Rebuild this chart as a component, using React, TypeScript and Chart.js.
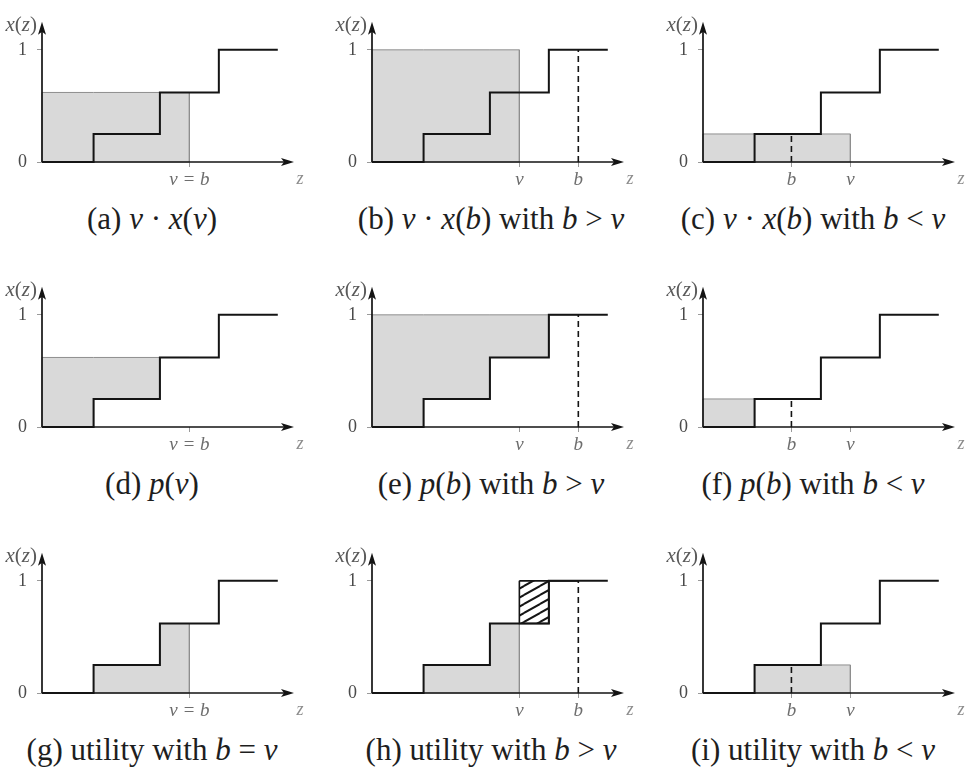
import React, { useEffect, useRef } from "react";
import { Chart, registerables } from "chart.js";

Chart.register(...registerables);

// Allocation rule x(z): a non-decreasing step function of the bid z
const stepPoints = [1.75, 4, 6]; // z where x(z) jumps
const stepLevels = [0, 0.25, 0.62, 1]; // x(z) on each piece
const zEnd = 8; // right end of the drawn curve
const zAxisMax = 8.55; // tip of the z arrow
const xAxisMax = 1.25; // tip of the x(z) arrow
const yTickValues = [0, 1];

// Bidder value and the bid used in each of the nine panels
const valueV = 5;
const bidsB = [5, 7, 3, 5, 7, 3, 5, 7, 3];
const panelKinds = [
  "revenue", "revenue", "revenue",
  "payment", "payment", "payment",
  "utility", "utility", "utility",
];
const tickNameV = "v";
const tickNameB = "b";
const tickNameEqual = "v = b";

// Captions; text between $ signs is set in math italic
const captions = [
  "(a) $v$ · $x$($v$)",
  "(b) $v$ · $x$($b$) with $b$ > $v$",
  "(c) $v$ · $x$($b$) with $b$ < $v$",
  "(d) $p$($v$)",
  "(e) $p$($b$) with $b$ > $v$",
  "(f) $p$($b$) with $b$ < $v$",
  "(g) utility with $b$ = $v$",
  "(h) utility with $b$ > $v$",
  "(i) utility with $b$ < $v$",
];

const FONT = "'Liberation Serif', 'Times New Roman', serif";

// Layout of the 3x3 grid
const PANEL_W = 320;
const PANEL_H = 191;
const LEFT_GUTTER = 40;
const TOP_PAD = 12;
const BOTTOM_GUTTER = 30;
const colLeft = [2, 332, 663];
const rowTop = [1, 266, 532];
const captionCx = [152, 491, 813];
const CAPTION_DROP = 57;

type Pt = { x: number; y: number };

function xAt(z: number): number {
  let k = 0;
  for (const s of stepPoints) if (z >= s) k++;
  return stepLevels[k];
}

// Closed polygon between two piecewise-constant functions on [a, c]
function band(a: number, c: number, lower: (z: number) => number, upper: (z: number) => number): Pt[] {
  const cuts = [a, ...stepPoints.filter((s) => s > a && s < c), c];
  const top: Pt[] = [];
  const bottom: Pt[] = [];
  for (let i = 0; i < cuts.length - 1; i++) {
    const m = (cuts[i] + cuts[i + 1]) / 2;
    top.push({ x: cuts[i], y: upper(m) }, { x: cuts[i + 1], y: upper(m) });
    bottom.push({ x: cuts[i], y: lower(m) }, { x: cuts[i + 1], y: lower(m) });
  }
  const poly = [...top, ...bottom.reverse()];
  poly.push(top[0]);
  return poly;
}

function curvePoints(): Pt[] {
  const pts: Pt[] = [{ x: 0, y: stepLevels[0] }];
  stepPoints.forEach((s, i) => pts.push({ x: s, y: stepLevels[i + 1] }));
  pts.push({ x: zEnd, y: stepLevels[stepLevels.length - 1] });
  return pts;
}

// Diagonal "///" hatching used for the negative-utility area
function makeHatch(): CanvasPattern | string {
  const w = 16;
  const h = 9;
  const c = document.createElement("canvas");
  c.width = w;
  c.height = h;
  const g = c.getContext("2d");
  if (!g) return "#888";
  g.strokeStyle = "#151515";
  g.lineWidth = 2;
  g.beginPath();
  for (const [dx, dy] of [[0, 0], [-w, 0], [w, 0], [0, -h], [0, h]]) {
    g.moveTo(dx, h + dy);
    g.lineTo(w + dx, dy);
  }
  g.stroke();
  return g.createPattern(c, "repeat") || "#888";
}

function drawMixed(ctx: CanvasRenderingContext2D, text: string, size: number, rightX: number, midY: number) {
  const parts = text.split("$").map((t, i) => ({ t, it: i % 2 === 1 })).filter((p) => p.t.length);
  const fontOf = (it: boolean) => `${it ? "italic " : ""}${size}px ${FONT}`;
  let w = 0;
  for (const p of parts) {
    ctx.font = fontOf(p.it);
    w += ctx.measureText(p.t).width;
  }
  let x = rightX - w;
  ctx.textAlign = "left";
  ctx.textBaseline = "middle";
  for (const p of parts) {
    ctx.font = fontOf(p.it);
    ctx.fillText(p.t, x, midY);
    x += ctx.measureText(p.t).width;
  }
}

// Axis lines with arrow heads, plus the x(z) and z axis names
const arrowAxes = {
  id: "arrowAxes",
  afterDatasetsDraw(chart: any) {
    const { ctx } = chart;
    const sx = chart.scales.x;
    const sy = chart.scales.y;
    const ox = sx.getPixelForValue(0);
    const oy = sy.getPixelForValue(0);
    const tipX = sx.getPixelForValue(zAxisMax);
    const tipY = sy.getPixelForValue(xAxisMax);
    ctx.save();
    ctx.strokeStyle = "#141414";
    ctx.fillStyle = "#141414";
    ctx.lineWidth = 1.7;
    ctx.beginPath();
    ctx.moveTo(ox, oy);
    ctx.lineTo(tipX - 9, oy);
    ctx.moveTo(ox, oy);
    ctx.lineTo(ox, tipY + 9);
    ctx.stroke();
    // z arrow head
    ctx.beginPath();
    ctx.moveTo(tipX, oy);
    ctx.lineTo(tipX - 13, oy - 4);
    ctx.lineTo(tipX - 10, oy);
    ctx.lineTo(tipX - 13, oy + 4);
    ctx.closePath();
    ctx.fill();
    // x(z) arrow head
    ctx.beginPath();
    ctx.moveTo(ox, tipY);
    ctx.lineTo(ox - 4, tipY + 13);
    ctx.lineTo(ox, tipY + 10);
    ctx.lineTo(ox + 4, tipY + 13);
    ctx.closePath();
    ctx.fill();

    ctx.fillStyle = "#5a5a5a";
    drawMixed(ctx, "$x$($z$)", 21, ox - 5, tipY + 4);
    ctx.fillStyle = "#8c8c8c";
    ctx.font = `italic 18px ${FONT}`;
    ctx.textAlign = "center";
    ctx.textBaseline = "middle";
    ctx.fillText("z", tipX + 6, oy + 17);
    ctx.restore();
  },
};

function Panel({ index }: { index: number }) {
  const ref = useRef<HTMLCanvasElement>(null);
  useEffect(() => {
    const canvas = ref.current;
    if (!canvas) return;
    const b = bidsB[index];
    const v = valueV;
    const kind = panelKinds[index];
    const xb = xAt(b);
    const GRAY_FILL = "#d9d9d9";
    const GRAY_EDGE = "#8f8f8f";

    const datasets: any[] = [];
    datasets.push({
      label: "x(z)",
      data: curvePoints(),
      stepped: true,
      borderColor: "#141414",
      borderWidth: 2,
      pointRadius: 0,
      fill: false,
      clip: false,
      order: 1,
    });
    if (b !== v) {
      datasets.push({
        label: "bid",
        data: [{ x: b, y: 0 }, { x: b, y: xb }],
        borderColor: "#141414",
        borderWidth: 1.6,
        borderDash: [6, 4],
        pointRadius: 0,
        fill: false,
        clip: false,
        order: 2,
      });
    }
    const shade = (poly: Pt[], bg: any, edge: string, width: number, order: number) => ({
      label: "area",
      data: poly,
      backgroundColor: bg,
      borderColor: edge,
      borderWidth: width,
      pointRadius: 0,
      fill: "shape",
      clip: false,
      order,
    });
    if (kind === "revenue") {
      datasets.push(shade(band(0, v, () => 0, () => xb), GRAY_FILL, GRAY_EDGE, 1, 4));
    } else if (kind === "payment") {
      datasets.push(shade(band(0, b, xAt, () => xb), GRAY_FILL, GRAY_EDGE, 1, 4));
    } else {
      datasets.push(shade(band(0, v, () => 0, (z) => Math.min(xAt(z), xb)), GRAY_FILL, GRAY_EDGE, 1, 4));
      if (b > v) {
        datasets.push(shade(band(v, b, xAt, () => xb), makeHatch(), "#141414", 1.6, 3));
      }
    }

    const xTicks = b === v ? [v] : [v, b].sort((p, q) => p - q);
    const xTickLabel = (val: number) => (b === v ? tickNameEqual : val === v ? tickNameV : tickNameB);

    const chart = new Chart(canvas, {
      type: "line",
      data: { datasets },
      plugins: [arrowAxes],
      options: {
        responsive: false,
        animation: false,
        events: [],
        layout: { padding: { top: TOP_PAD, right: PANEL_W - LEFT_GUTTER - 252, left: 0, bottom: 0 } },
        plugins: { legend: { display: false }, tooltip: { enabled: false } },
        scales: {
          x: {
            type: "linear",
            min: 0,
            max: zAxisMax,
            bounds: "data",
            afterBuildTicks: (s: any) => {
              s.ticks = xTicks.map((value) => ({ value }));
            },
            afterFit: (s: any) => {
              s.height = BOTTOM_GUTTER;
            },
            border: { display: false },
            grid: { drawOnChartArea: false, drawTicks: true, tickLength: 5, color: "#9a9a9a", lineWidth: 1 },
            ticks: {
              autoSkip: false,
              maxRotation: 0,
              padding: 2,
              color: "#6e6e6e",
              font: { family: FONT, size: 19, style: "italic" },
              callback: (val: any) => xTickLabel(Number(val)),
            },
          },
          y: {
            type: "linear",
            min: 0,
            max: xAxisMax,
            bounds: "data",
            afterBuildTicks: (s: any) => {
              s.ticks = yTickValues.map((value) => ({ value }));
            },
            afterFit: (s: any) => {
              s.width = LEFT_GUTTER;
            },
            border: { display: false },
            grid: { drawOnChartArea: false, drawTicks: true, tickLength: 5, color: "#9a9a9a", lineWidth: 1 },
            ticks: {
              autoSkip: false,
              padding: 10,
              color: "#4a4a4a",
              font: { family: FONT, size: 18 },
              callback: (val: any) => String(val),
            },
          },
        },
      } as any,
    });

    return () => {
      chart.destroy();
    };
  }, [index]);

  const col = index % 3;
  const row = Math.floor(index / 3);
  return (
    <canvas
      ref={ref}
      width={PANEL_W}
      height={PANEL_H}
      style={{ position: "absolute", left: colLeft[col], top: rowTop[row], width: PANEL_W, height: PANEL_H }}
    />
  );
}

function Caption({ index }: { index: number }) {
  const col = index % 3;
  const row = Math.floor(index / 3);
  const axisY = rowTop[row] + PANEL_H - BOTTOM_GUTTER;
  const cy = axisY + CAPTION_DROP;
  const parts = captions[index].split("$");
  return (
    <div
      style={{
        position: "absolute",
        left: captionCx[col] - 200,
        width: 400,
        top: cy - 18,
        height: 36,
        lineHeight: "36px",
        textAlign: "center",
        fontFamily: FONT,
        fontSize: 31,
        color: "#1e1e1e",
        whiteSpace: "pre",
      }}
    >
      {parts.map((t, i) => (i % 2 === 1 ? <i key={i}>{t}</i> : <span key={i}>{t}</span>))}
    </div>
  );
}

export default function App() {
  const idx = [0, 1, 2, 3, 4, 5, 6, 7, 8];
  return (
    <div
      style={{
        position: "absolute",
        left: 0,
        top: 0,
        width: 971,
        height: 770,
        overflow: "hidden",
        background: "#ffffff",
      }}
    >
      {idx.map((i) => (
        <Panel key={`p${i}`} index={i} />
      ))}
      {idx.map((i) => (
        <Caption key={`c${i}`} index={i} />
      ))}
    </div>
  );
}
